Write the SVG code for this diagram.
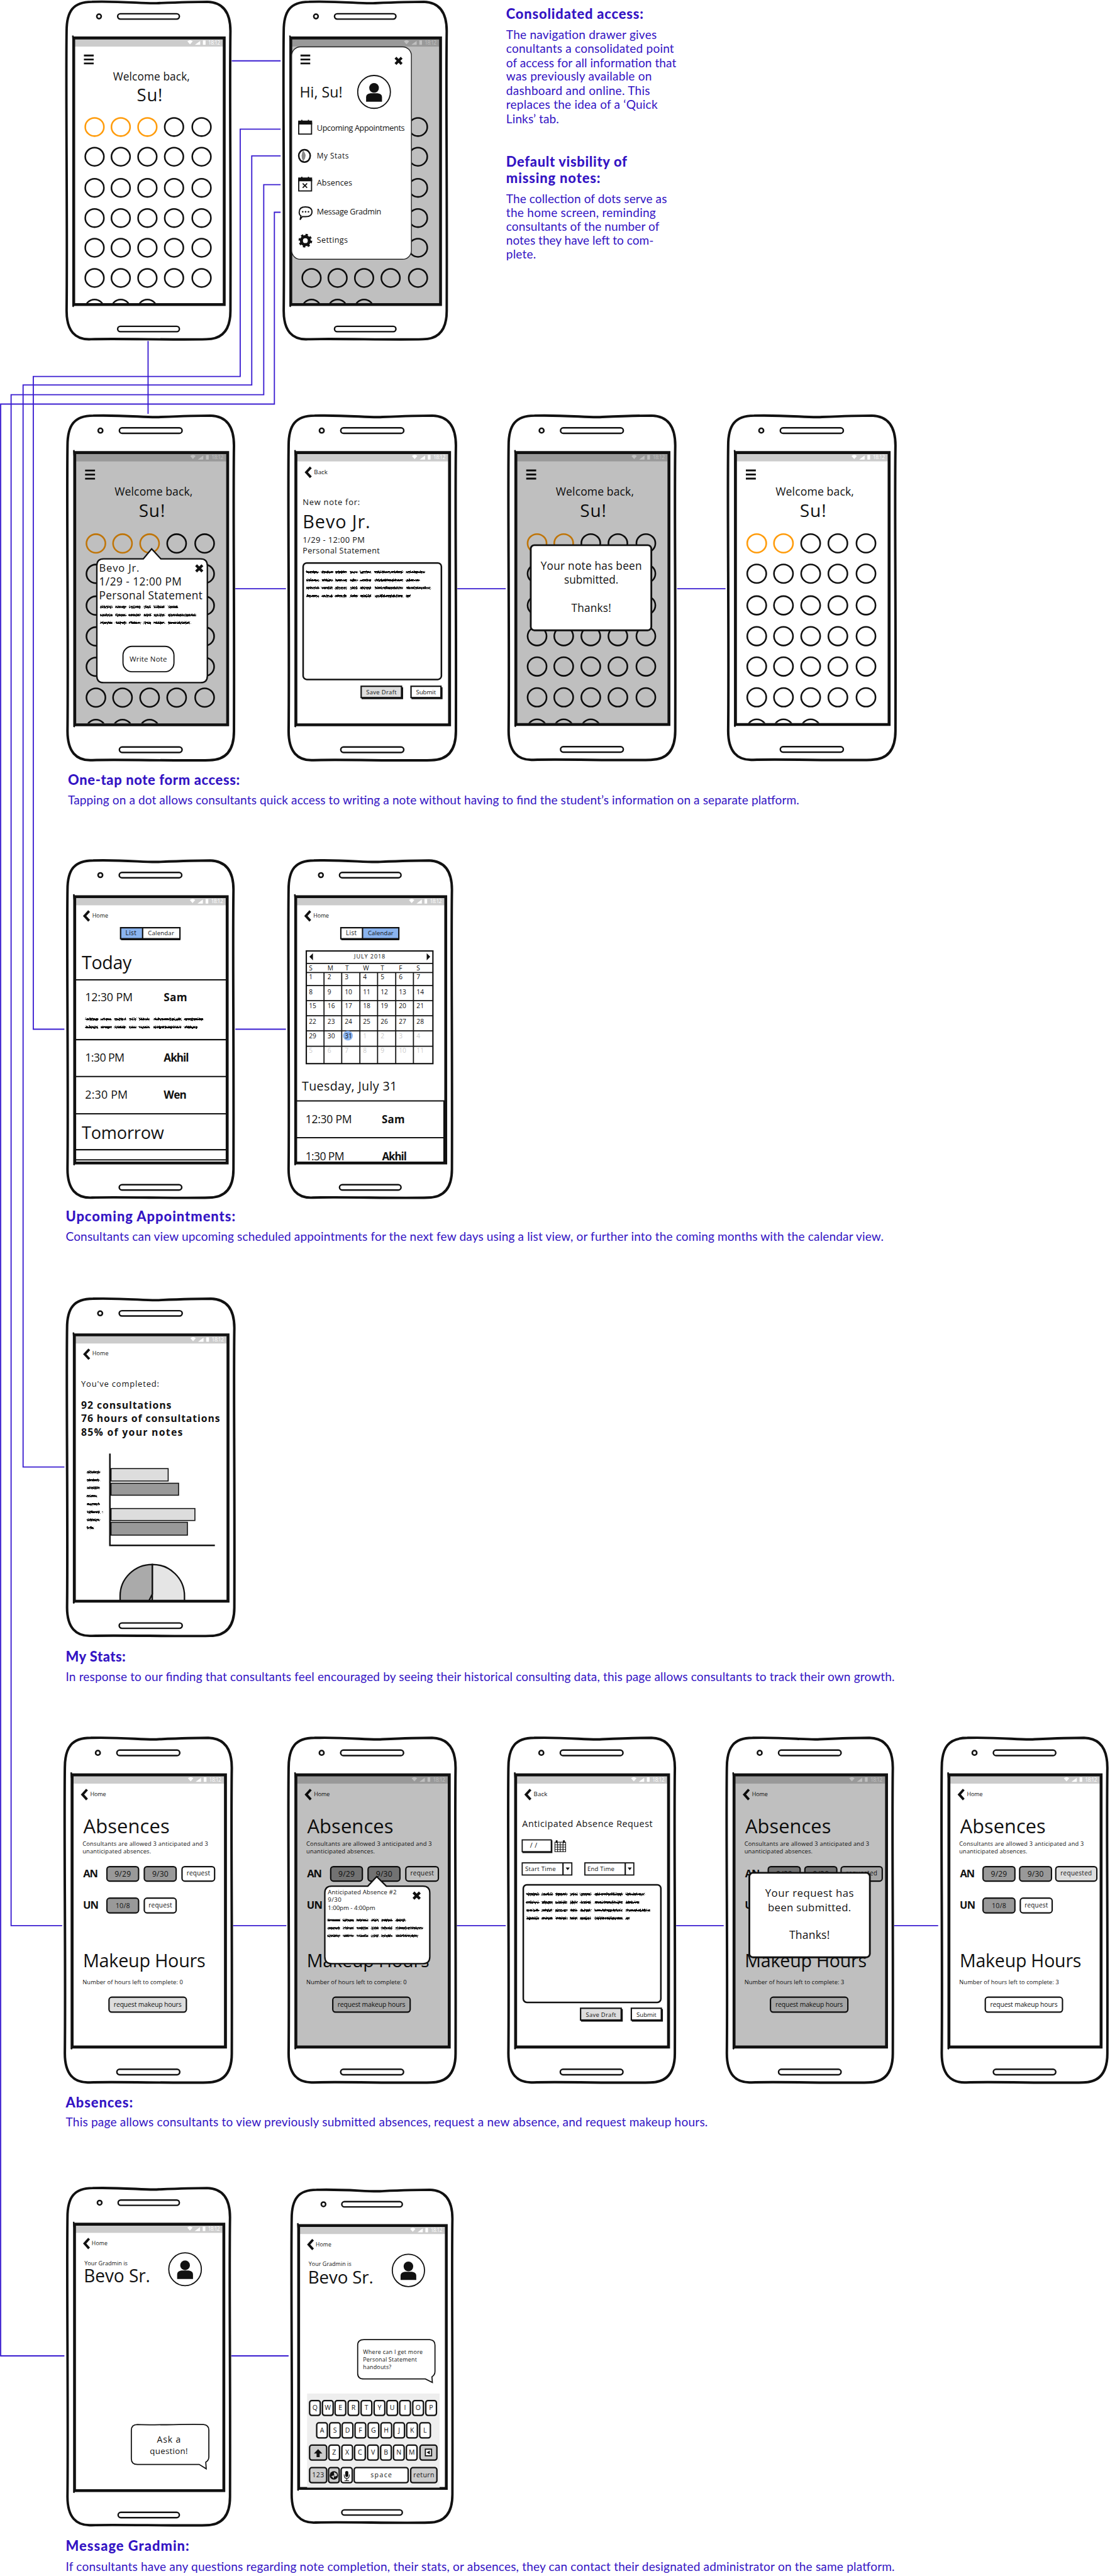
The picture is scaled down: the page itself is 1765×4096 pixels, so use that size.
<svg xmlns="http://www.w3.org/2000/svg" width="1765" height="4096" viewBox="0 0 1765 4096">
<style>
text{font-family:"Open Sans","Lato","Liberation Sans",sans-serif;fill:#111}
.st{fill:#fff;font-size:12px}
.cap{font-family:"Lato","Open Sans",sans-serif;fill:#3414c4;font-size:27px}
.hd{font-family:"Lato","Open Sans",sans-serif;fill:#3414c4;font-size:31px;font-weight:900}
.c{text-anchor:middle}
.b{font-weight:700}
.gr{fill:#ccc}
.conn{fill:none;stroke:#3a1dd0;stroke-width:2.6}
.line{fill:none;stroke:#111;stroke-width:3}
.btn{stroke:#111;stroke-width:3}
.g9{fill:#999}.gd{fill:#ddd}.wh{fill:#fff}.bl{fill:#8ab4f0}.gc{fill:#ccc}
.dot{fill:none;stroke:#111;stroke-width:3.6}
.or{fill:none;stroke:#ff9c0c;stroke-width:3.6}
.sc{fill:none;stroke:#111;stroke-width:4.6;stroke-dasharray:28 6 24 6 26 7 16 6 24 8 62 7 54 6 24 9 14 6 40 6 30 8 48 6 20 6 30 7;filter:url(#rough)}
.pop{fill:#fff;stroke:#111;stroke-width:3.2}
.dim{fill:#000;fill-opacity:.25}
.chev{fill:none;stroke:#111;stroke-width:5.5}
.key{fill:#fff;stroke:#111;stroke-width:3.2}
.keyg{fill:#ccc;stroke:#111;stroke-width:3.2}
</style>
<defs>
<filter id="rough" filterUnits="userSpaceOnUse" x="0" y="0" width="400" height="800"><feTurbulence type="fractalNoise" baseFrequency="0.45" numOctaves="2" seed="4"/><feDisplacementMap in="SourceGraphic" scale="6" xChannelSelector="R" yChannelSelector="G"/></filter>
<clipPath id="scr"><rect x="21" y="89" width="334" height="594"/></clipPath>
<g id="body">
<path d="M3 70C3 25 18 4 60 4C130 2 180 9 210 7C260 5 300 4 320 4C355 5 372 28 372 70C370 200 373 400 372 700C372 745 352 764 318 764C250 766 120 762 58 764C22 766 3 745 3 700C5 500 1 200 3 70Z" fill="#fff" stroke="#111" stroke-width="5.5"/>
<rect x="118" y="31" width="139" height="12" rx="6" fill="#fff" stroke="#111" stroke-width="3.4"/>
<rect x="118" y="735" width="139" height="12" rx="6" fill="#fff" stroke="#111" stroke-width="3.4"/>
<circle cx="76" cy="37" r="5" fill="#fff" stroke="#111" stroke-width="3.6"/>
<rect x="21" y="88" width="334" height="596" fill="#fff"/>
<rect x="21" y="88" width="334" height="17" fill="#ccc"/>
<path d="M275 93Q281 88 287 93L281 100ZM292 101H304V92ZM310 91h6v10h-6Z" fill="#fff"/>
</g>
<g id="frame">
<path d="M19 85.5H358V686H19Z" fill="none" stroke="#111" stroke-width="6.5"/>
<path d="M17 80L18 92M17 691L20 685" fill="none" stroke="#111" stroke-width="3.5"/>
</g>
<rect id="ovl" class="dim" x="21" y="88" width="334" height="596"/>
<path id="burger" d="M42 125H64M42 134H64M42 143H64" fill="none" stroke="#111" stroke-width="4"/>
<path id="chv" class="chev" d="M52 118L42 129L52 140"/>
<g id="dots" class="dot">
<ellipse cx="245" cy="286" rx="21" ry="20.5"/><ellipse cx="307" cy="286" rx="21" ry="20.5"/>
<ellipse cx="66" cy="353" rx="21" ry="20.5"/><ellipse cx="125" cy="353" rx="21" ry="20.5"/><ellipse cx="185" cy="353" rx="21" ry="20.5"/><ellipse cx="245" cy="353" rx="21" ry="20.5"/><ellipse cx="307" cy="353" rx="21" ry="20.5"/>
<ellipse cx="66" cy="423" rx="21" ry="20.5"/><ellipse cx="125" cy="423" rx="21" ry="20.5"/><ellipse cx="185" cy="423" rx="21" ry="20.5"/><ellipse cx="245" cy="423" rx="21" ry="20.5"/><ellipse cx="307" cy="423" rx="21" ry="20.5"/>
<ellipse cx="66" cy="491" rx="21" ry="20.5"/><ellipse cx="125" cy="491" rx="21" ry="20.5"/><ellipse cx="185" cy="491" rx="21" ry="20.5"/><ellipse cx="245" cy="491" rx="21" ry="20.5"/><ellipse cx="307" cy="491" rx="21" ry="20.5"/>
<ellipse cx="66" cy="558" rx="21" ry="20.5"/><ellipse cx="125" cy="558" rx="21" ry="20.5"/><ellipse cx="185" cy="558" rx="21" ry="20.5"/><ellipse cx="245" cy="558" rx="21" ry="20.5"/><ellipse cx="307" cy="558" rx="21" ry="20.5"/>
<ellipse cx="66" cy="626" rx="21" ry="20.5"/><ellipse cx="125" cy="626" rx="21" ry="20.5"/><ellipse cx="185" cy="626" rx="21" ry="20.5"/><ellipse cx="245" cy="626" rx="21" ry="20.5"/><ellipse cx="307" cy="626" rx="21" ry="20.5"/>
<g clip-path="url(#scr)"><ellipse cx="66" cy="695" rx="21" ry="20.5"/><ellipse cx="125" cy="695" rx="21" ry="20.5"/><ellipse cx="185" cy="695" rx="21" ry="20.5"/></g>
</g>
<path id="xx" d="M-7 -7L7 7M7 -7L-7 7" fill="none" stroke="#111" stroke-width="6"/>
<g id="avatar">
<ellipse rx="37" ry="37" fill="#fff" stroke="#111" stroke-width="2.6"/>
<circle cy="-9" r="11" fill="#111"/>
<path d="M-18 22V12Q-18 4 -8 3H8Q18 4 18 12V22Z" fill="#111"/>
</g>
</defs>
<g transform="scale(0.706)">
<g id="connectors">
<path class="conn" d="M522 137H632"/>
<path class="conn" d="M333.500 768V932"/>
<path class="conn" d="M632 291H541V848H75V2318H145"/>
<path class="conn" d="M632 351H567V867H52V3304H145"/>
<path class="conn" d="M632 416H594V889H25V4337H140"/>
<path class="conn" d="M632 478H618V910H1.500V5306H145"/>
<path class="conn" d="M530 1326H644M1030 1326H1139M1525 1326H1634"/>
<path class="conn" d="M530 2318H644"/>
<path class="conn" d="M525 4337H645M1029 4337H1139M1523 4337H1630M2014 4337H2113"/>
<path class="conn" d="M521 5306H650"/>
</g>

<g id="p1-home" transform="translate(147 0)">
<use href="#body"/><text class="st" x="322" y="100" textLength="27">18:12</text>
<use href="#burger"/>
<text class="c" x="194" y="181" font-size="24.500" textLength="173">Welcome back,</text>
<text class="c" x="190" y="228" font-size="39" textLength="58">Su!</text>
<ellipse class="or" cx="66" cy="286" rx="21" ry="20.5"/><ellipse class="or" cx="125" cy="286" rx="21" ry="20.5"/><ellipse class="or" cx="185" cy="286" rx="21" ry="20.5"/>
<use href="#dots"/><use href="#frame"/>
</g>

<g id="p2-drawer" transform="translate(636 0) scale(.995 1)">
<use href="#body"/><text class="st" x="322" y="100" textLength="27">18:12</text>
<use href="#dots"/><use href="#ovl"/><use href="#frame"/>
<rect x="21" y="105.500" width="271" height="478.500" rx="20" fill="#fff" stroke="#222" stroke-width="2"/>
<use href="#burger" x="-1"/>
<use href="#xx" transform="translate(263 137)"/>
<text x="39" y="220" font-size="33" textLength="97">Hi, Su!</text>
<use href="#avatar" transform="translate(207.500 207)"/>
<g fill="#fff" stroke="#111" stroke-width="2.600">
<rect x="37" y="277" width="29" height="25"/><path d="M37 273h29v6h-29Z" fill="#111"/><path d="M44 270v7M59 270v7"/>
<ellipse cx="50" cy="351" rx="13" ry="14" stroke-width="3.500"/><path d="M47 339Q40 351 47 363Q58 351 47 339Z" fill="#888" stroke="none"/>
<rect x="37" y="405" width="29" height="25"/><path d="M37 401h29v6h-29Z" fill="#111"/><path d="M44 398v7M59 398v7M46 413l10 10M56 413l-10 10"/>
<path d="M38 478Q38 466 52 466Q67 466 67 477Q67 488 52 488L45 488L40 495L42 486Q38 484 38 478Z"/>
</g>
<circle cx="46" cy="477" r="1.800" fill="#111"/><circle cx="52.500" cy="477" r="1.800" fill="#111"/><circle cx="59" cy="477" r="1.800" fill="#111"/>
<circle cx="52" cy="542" r="9" fill="none" stroke="#111" stroke-width="7"/><circle cx="52" cy="542" r="13" fill="none" stroke="#111" stroke-width="5" stroke-dasharray="5.200 5"/>
<text x="78" y="295" font-size="18" textLength="199">Upcoming Appointments</text>
<text x="78" y="357" font-size="17" textLength="72">My Stats</text>
<text x="78" y="418" font-size="18" textLength="80">Absences</text>
<text x="78" y="483" font-size="18" textLength="146">Message Gradmin</text>
<text x="78" y="547" font-size="18" textLength="70">Settings</text>
</g>

<g id="caption-consolidated">
<text class="hd" x="1140" y="43" textLength="309">Consolidated access:</text>
<text class="cap" x="1140" y="88" textLength="339">The navigation drawer gives</text>
<text class="cap" x="1140" y="119" textLength="378">conultants a consolidated point</text>
<text class="cap" x="1140" y="151" textLength="383">of access for all information that</text>
<text class="cap" x="1140" y="182" textLength="328">was previously available on</text>
<text class="cap" x="1140" y="213.500" textLength="324">dashboard and online. This</text>
<text class="cap" x="1140" y="245" textLength="341">replaces the idea of a ‘Quick</text>
<text class="cap" x="1140" y="277" textLength="119">Links’ tab.</text>
<text class="hd" x="1140" y="376" textLength="272">Default visbility of</text>
<text class="hd" x="1140" y="412" textLength="212">missing notes:</text>
<text class="cap" x="1140" y="457" textLength="362">The collection of dots serve as</text>
<text class="cap" x="1140" y="488" textLength="337">the home screen, reminding</text>
<text class="cap" x="1140" y="520" textLength="345">consultants of the number of</text>
<text class="cap" x="1140" y="551" textLength="332">notes they have left to com-</text>
<text class="cap" x="1140" y="582" textLength="67">plete.</text>
</g>

<g id="p3-popover" transform="translate(149 932) scale(1.016 1.021)">
<use href="#body"/><text class="st" x="322" y="100" textLength="27">18:12</text>
<use href="#burger"/>
<text class="c" x="194" y="181" font-size="24.500" textLength="173">Welcome back,</text>
<text class="c" x="190" y="228" font-size="39" textLength="58">Su!</text>
<ellipse class="or" cx="66" cy="286" rx="21" ry="20.5"/><ellipse class="or" cx="125" cy="286" rx="21" ry="20.5"/><ellipse class="or" cx="185" cy="286" rx="21" ry="20.5"/>
<use href="#dots"/><use href="#ovl"/><use href="#frame"/>
<path class="pop" d="M83 320H171L189.500 298L210 320H298Q313 320 313 335V578Q313 593 298 593H83Q68 593 68 578V335Q68 320 83 320Z"/>
<text x="73" y="348" font-size="23" textLength="89">Bevo Jr.</text>
<text x="73" y="379" font-size="24" textLength="183">1/29 - 12:00 PM</text>
<text x="73" y="409" font-size="24" textLength="229">Personal Statement</text>
<path class="sc" d="M75 426h172M75 444h216M75 461h200"/>
<use href="#xx" transform="translate(295 341)"/>
<rect x="126" y="513" width="113" height="56" rx="20" fill="#fff" stroke="#111" stroke-width="2.600"/>
<text class="c" x="182" y="546" font-size="16" textLength="83">Write Note</text>
</g>

<g id="p4-note-form" transform="translate(647 932) scale(1.021 1.021)">
<use href="#body"/><text class="st" x="322" y="100" textLength="27">18:12</text>
<use href="#chv"/>
<text x="59" y="133" font-size="13.500" textLength="30">Back</text>
<text x="34" y="201" font-size="18" textLength="126">New note for:</text>
<text x="34" y="253" font-size="40" textLength="149">Bevo Jr.</text>
<text x="34" y="284" font-size="18" textLength="137">1/29 - 12:00 PM</text>
<text x="34" y="308" font-size="17.500" textLength="170">Personal Statement</text>
<rect x="35" y="329" width="305" height="257" rx="8" fill="#fff" stroke="#111" stroke-width="3.500"/>
<path class="sc" d="M42 349h261M42 367h249M42 384h279M42 402h230"/>
<rect class="btn gd" x="163" y="601" width="89" height="25" stroke-width="2.500"/><path class="line" d="M164 628H254V603"/>
<text class="c" x="207.500" y="619" font-size="13" textLength="67">Save Draft</text>
<rect class="btn wh" x="273" y="601" width="66" height="25" stroke-width="2.500"/><path class="line" d="M274 628H341V603"/>
<text class="c" x="306" y="619" font-size="13.500" textLength="44">Submit</text>
<use href="#frame"/>
</g>

<g id="p5-submitted" transform="translate(1142.500 932) scale(1.017 1.02)">
<use href="#body"/><text class="st" x="322" y="100" textLength="27">18:12</text>
<use href="#burger"/>
<text class="c" x="194" y="181" font-size="24.500" textLength="173">Welcome back,</text>
<text class="c" x="190" y="228" font-size="39" textLength="58">Su!</text>
<ellipse class="or" cx="66" cy="286" rx="21" ry="20.5"/><ellipse class="or" cx="125" cy="286" rx="21" ry="20.5"/><ellipse class="dot" cx="185" cy="286" rx="21" ry="20.5"/>
<use href="#dots"/><use href="#ovl"/><use href="#frame"/>
<rect x="52" y="290" width="267" height="188" rx="8" fill="#fff" stroke="#111" stroke-width="4"/>
<text class="c" x="186" y="344" font-size="24" textLength="224">Your note has been</text>
<text class="c" x="186" y="375.500" font-size="24" textLength="120">submitted.</text>
<text class="c" x="186" y="437" font-size="24" textLength="88">Thanks!</text>
</g>

<g id="p6-home-updated" transform="translate(1637 932) scale(1.021 1.02)">
<use href="#body"/><text class="st" x="322" y="100" textLength="27">18:12</text>
<use href="#burger"/>
<text class="c" x="194" y="181" font-size="24.500" textLength="173">Welcome back,</text>
<text class="c" x="190" y="228" font-size="39" textLength="58">Su!</text>
<ellipse class="or" cx="66" cy="286" rx="21" ry="20.5"/><ellipse class="or" cx="125" cy="286" rx="21" ry="20.5"/><ellipse class="dot" cx="185" cy="286" rx="21" ry="20.5"/>
<use href="#dots"/><use href="#frame"/>
</g>

<g id="caption-one-tap">
<text class="hd" x="153" y="1767" textLength="387">One-tap note form access:</text>
<text class="cap" x="153" y="1811" textLength="1647">Tapping on a dot allows consultants quick access to writing a note without having to find the student’s information on a separate platform.</text>
</g>

<g id="p7-list" transform="translate(149 1934) scale(1.013 .999)">
<use href="#body"/><text class="st" x="322" y="100" textLength="27">18:12</text>
<use href="#chv" x="-1"/>
<text x="58" y="133" font-size="12.500" textLength="35.500">Home</text>
<rect class="bl" x="121" y="155.500" width="49" height="25"/><rect class="wh" x="170" y="155.500" width="83" height="25"/>
<path class="line" stroke-width="2.500" d="M121 155.500H253V180.500H121ZM170 155.500V180.500"/><path fill="none" stroke="#111" stroke-width="4.500" d="M122 181.500H254"/>
<text class="c" x="144" y="173" font-size="14" textLength="24">List</text>
<text class="c" x="211" y="173" font-size="13.500" textLength="58">Calendar</text>
<text x="34.700" y="249" font-size="40" textLength="111">Today</text>
<path class="line" d="M20 273H357V408H20ZM20 491H357V575H20ZM20 408V491M357 408V491M20 656H357M20 679H357"/>
<text x="42" y="322" font-size="25" textLength="106">12:30 PM</text>
<text class="b" x="217" y="322" font-size="24" textLength="52">Sam</text>
<path class="sc" d="M43 362h262M43 380h249"/>
<text x="42" y="457" font-size="25" textLength="88">1:30 PM</text>
<text class="b" x="217" y="458" font-size="24" textLength="56">Akhil</text>
<text x="42" y="541" font-size="25" textLength="95">2:30 PM</text>
<text class="b" x="217" y="541" font-size="24" textLength="51">Wen</text>
<text x="34.700" y="632" font-size="38" textLength="183">Tomorrow</text>
<use href="#frame"/>
</g>

<g id="p8-calendar" transform="translate(647 1934) scale(.997 .999)">
<use href="#body"/><text class="st" x="322" y="100" textLength="27">18:12</text>
<use href="#chv"/>
<text x="59" y="133" font-size="12.500" textLength="35">Home</text>
<rect class="wh" x="121" y="155.500" width="49" height="25"/><rect class="bl" x="170" y="155.500" width="82" height="25"/>
<path class="line" stroke-width="2.500" d="M121 155.500H252V180.500H121ZM170 155.500V180.500"/><path fill="none" stroke="#111" stroke-width="4.500" d="M122 181.500H253"/>
<text class="c" x="144.500" y="173" font-size="14" textLength="24">List</text>
<text class="c" x="211" y="173" font-size="13.500" textLength="58">Calendar</text>
<rect x="43" y="208" width="286" height="254" fill="#fff" stroke="#111" stroke-width="3"/>
<path fill="none" stroke="#111" stroke-width="2.500" d="M43 236H329M43 256.500H329M43 286H329M43 320H329M43 354H329M43 388H329M43 423H329M83 256.500V462M123 256.500V462M164 256.500V462M204 256.500V462M245 256.500V462M285 256.500V462"/>
<path d="M50 221L58 213V229ZM323 221L315 213V229Z" fill="#111"/>
<text class="c" x="186" y="225" font-size="13" textLength="70">JULY 2018</text>
<circle cx="137" cy="399" r="11" fill="#8ab4f0"/>
<g font-size="14.500">
<text x="49" y="252">S</text><text x="91" y="252">M</text><text x="131" y="252">T</text><text x="171" y="252">W</text><text x="211" y="252">T</text><text x="252" y="252">F</text><text x="292" y="252">S</text>
<text x="49" y="272">1</text><text x="91" y="272">2</text><text x="130" y="272">3</text><text x="171" y="272">4</text><text x="211" y="272">5</text><text x="252" y="272">6</text><text x="292" y="272">7</text>
<text x="49" y="305">8</text><text x="91" y="305">9</text><text x="130" y="305">10</text><text x="171" y="305">11</text><text x="211" y="305">12</text><text x="252" y="305">13</text><text x="292" y="305">14</text>
<text x="49" y="337">15</text><text x="91" y="337">16</text><text x="130" y="337">17</text><text x="171" y="337">18</text><text x="211" y="337">19</text><text x="252" y="337">20</text><text x="292" y="337">21</text>
<text x="49" y="372">22</text><text x="91" y="372">23</text><text x="130" y="372">24</text><text x="171" y="372">25</text><text x="211" y="372">26</text><text x="252" y="372">27</text><text x="292" y="372">28</text>
<text x="49" y="405">29</text><text x="91" y="405">30</text><text x="130" y="405">31</text><text class="gr" x="171" y="405">1</text><text class="gr" x="211" y="405">2</text><text class="gr" x="252" y="405">3</text><text class="gr" x="292" y="405">4</text>
<text class="gr" x="49" y="438">5</text><text class="gr" x="91" y="438">6</text><text class="gr" x="130" y="438">7</text><text class="gr" x="171" y="438">8</text><text class="gr" x="211" y="438">9</text><text class="gr" x="252" y="438">10</text><text class="gr" x="292" y="438">11</text>
</g>
<text x="33" y="523" font-size="28" textLength="215">Tuesday, July 31</text>
<path class="line" d="M19 546H354V686M19 546V686M19 629H354"/>
<text x="41" y="596" font-size="25" textLength="105">12:30 PM</text>
<text class="b" x="213.500" y="596" font-size="24" textLength="52">Sam</text>
<text x="41" y="680" font-size="25" textLength="88">1:30 PM</text>
<text class="b" x="214" y="680" font-size="24" textLength="56">Akhil</text>
<use href="#frame"/>
</g>

<g id="caption-upcoming">
<text class="hd" x="148" y="2751" textLength="382">Upcoming Appointments:</text>
<text class="cap" x="148" y="2794" textLength="1842">Consultants can view upcoming scheduled appointments for the next few days using a list view, or further into the coming months with the calendar view.</text>
</g>

<g id="p9-stats" transform="translate(148 2921) scale(1.021 .999)">
<use href="#body"/><text class="st" x="322" y="100" textLength="27">18:12</text>
<use href="#chv"/>
<text x="58.800" y="132" font-size="12.500" textLength="35.600">Home</text>
<text x="34" y="202" font-size="18" textLength="172">You've completed:</text>
<text class="b" x="34" y="252" font-size="22" textLength="199">92 consultations</text>
<text class="b" x="34" y="282" font-size="22" textLength="306">76 hours of consultations</text>
<text class="b" x="34" y="313" font-size="22" textLength="224">85% of your notes</text>
<path fill="none" stroke="#111" stroke-width="3.500" d="M97.500 353V560H329"/>
<g stroke="#111" stroke-width="2.200">
<rect x="100" y="387" width="126" height="28" fill="#ddd"/><rect x="100" y="420" width="149" height="27" fill="#999"/>
<rect x="100" y="477" width="185" height="27" fill="#ddd"/><rect x="100" y="508" width="168.500" height="29" fill="#999"/>
</g>
<path class="sc" d="M47 395h33M47 413h33M47 430.500h33M47 449h22M47 467h30M47 485h35M47 503h33M47 521h15"/>
<g clip-path="url(#scr)" stroke="#111" stroke-width="3.200">
<path d="M191 603A71 71 0 0 0 120 674V690H191Z" fill="#aaa"/><path d="M191 603A71 71 0 0 1 262 674V690H191Z" fill="#e5e5e5"/>
<path d="M191 603V670L184 684" fill="none"/>
</g>
<use href="#frame"/>
</g>

<g id="caption-stats">
<text class="hd" x="148" y="3742" textLength="135">My Stats:</text>
<text class="cap" x="148" y="3786" textLength="1867">In response to our finding that consultants feel encouraged by seeing their historical consulting data, this page allows consultants to track their own growth.</text>
</g>

<g id="p10-absences" transform="translate(143 3910) scale(1.019 1.021)">
<use href="#body"/><text class="st" x="322" y="100" textLength="27">18:12</text>
<use href="#chv"/>
<text x="59" y="132" font-size="12.500" textLength="35">Home</text>
<text x="44" y="214" font-size="43" textLength="190.500">Absences</text>
<text x="42" y="242" font-size="13" textLength="277.500">Consultants are allowed 3 anticipated and 3</text>
<text x="42" y="259" font-size="13" textLength="151.500">unanticipated absences.</text>
<text class="b" x="43.600" y="311" font-size="23" textLength="33">AN</text>
<rect class="btn g9" x="96" y="288" width="70" height="32" rx="6"/><rect class="btn g9" x="178.600" y="288" width="70.400" height="32" rx="6"/><rect class="btn wh" x="262" y="288" width="72" height="32" rx="6"/>
<text class="c" x="131" y="310" font-size="17" textLength="36">9/29</text><text class="c" x="214" y="310" font-size="17" textLength="36">9/30</text><text class="c" x="298" y="308" font-size="14" textLength="52">request</text>
<text class="b" x="43" y="381" font-size="23" textLength="35">UN</text>
<rect class="btn g9" x="96" y="357.500" width="70" height="32.500" rx="6"/><rect class="btn wh" x="178.600" y="357.500" width="70.400" height="32.500" rx="6"/>
<text class="c" x="131" y="380" font-size="15" textLength="32">10/8</text><text class="c" x="214" y="378" font-size="14" textLength="52">request</text>
<text x="43" y="510" font-size="40" textLength="271">Makeup Hours</text>
<text x="42" y="547" font-size="13" textLength="222">Number of hours left to complete: 0</text>
<rect class="btn gd" x="100.600" y="576" width="171" height="33" rx="6"/>
<text class="c" x="186" y="597" font-size="14.500" textLength="150">request makeup hours</text>
<use href="#frame"/>
</g>

<g id="p11-absence-detail" transform="translate(647 3910) scale(1.019 1.021)">
<use href="#body"/><text class="st" x="322" y="100" textLength="27">18:12</text>
<use href="#chv"/>
<text x="59" y="132" font-size="12.500" textLength="35">Home</text>
<text x="44" y="214" font-size="43" textLength="190.500">Absences</text>
<text x="42" y="242" font-size="13" textLength="277.500">Consultants are allowed 3 anticipated and 3</text>
<text x="42" y="259" font-size="13" textLength="151.500">unanticipated absences.</text>
<text class="b" x="43.600" y="311" font-size="23" textLength="33">AN</text>
<rect class="btn g9" x="96" y="288" width="70" height="32" rx="6"/><rect class="btn g9" x="178.600" y="288" width="70.400" height="32" rx="6"/><rect class="btn wh" x="262" y="288" width="72" height="32" rx="6"/>
<text class="c" x="131" y="310" font-size="17" textLength="36">9/29</text><text class="c" x="214" y="310" font-size="17" textLength="36">9/30</text><text class="c" x="298" y="308" font-size="14" textLength="52">request</text>
<text class="b" x="43" y="381" font-size="23" textLength="35">UN</text>
<text x="43" y="510" font-size="40" textLength="271">Makeup Hours</text>
<text x="42" y="547" font-size="13" textLength="222">Number of hours left to complete: 0</text>
<rect class="btn gd" x="100.600" y="576" width="171" height="33" rx="6"/>
<text class="c" x="186" y="597" font-size="14.500" textLength="150">request makeup hours</text>
<use href="#ovl"/><use href="#frame"/>
<path class="pop" d="M98 331H178L197.600 310L219 331H300Q315 331 315 346V487Q315 502 300 502H98Q83 502 83 487V346Q83 331 98 331Z"/>
<text x="89.500" y="349" font-size="13.500" textLength="152">Anticipated Absence #2</text>
<text x="89.500" y="366" font-size="13.500" textLength="30">9/30</text>
<text x="89.500" y="383" font-size="13.500" textLength="105">1:00pm - 4:00pm</text>
<path class="sc" d="M89 406.400h172M89 423.600h211M89 440.800h200"/>
<use href="#xx" transform="translate(286 352)"/>
</g>

<g id="p12-absence-request" transform="translate(1142 3910) scale(1.016 1.021)">
<use href="#body"/><text class="st" x="322" y="100" textLength="27">18:12</text>
<use href="#chv"/>
<text x="59" y="132" font-size="13.500" textLength="30.500">Back</text>
<text x="33.600" y="201" font-size="20" textLength="289">Anticipated Absence Request</text>
<rect x="33.600" y="229" width="64.400" height="26" fill="#fff" stroke="#111" stroke-width="2.500"/><path class="line" d="M34 256.500H99V230"/>
<text x="51" y="246" font-size="15" textLength="16">/ /</text>
<g fill="#fff" stroke="#111" stroke-width="1.500"><rect x="106" y="234" width="24" height="21"/><path d="M106 240H130M106 245H130M106 250H130M112 234V255M118 234V255M124 234V255"/></g>
<path d="M108 230h4v6h-4ZM124 230h4v6h-4Z" fill="#111"/>
<rect x="33.600" y="279.700" width="110" height="26.800" fill="#fff" stroke="#111" stroke-width="2.500"/><path class="line" stroke-width="2" d="M124 279.700V306.500"/><path d="M130 290h9l-4.500 6Z" fill="#111"/>
<rect x="172.500" y="279.700" width="108.500" height="26.800" fill="#fff" stroke="#111" stroke-width="2.500"/><path class="line" stroke-width="2" d="M262 279.700V306.500"/><path d="M267.500 290h9l-4.500 6Z" fill="#111"/>
<text x="40" y="298" font-size="13.500" textLength="68">Start Time</text>
<text x="178" y="298" font-size="13.500" textLength="60">End Time</text>
<rect x="36" y="328" width="305" height="259.500" rx="8" fill="#fff" stroke="#111" stroke-width="3.500"/>
<path class="sc" d="M43 349h261M43 367h250M43 384.500h279M43 402h228.500"/>
<rect class="btn gd" x="163" y="600.400" width="90" height="26" stroke-width="2.500"/><path class="line" d="M164 628.500H255V602"/>
<text class="c" x="208" y="619" font-size="13" textLength="67">Save Draft</text>
<rect class="btn wh" x="275.500" y="600.400" width="66.500" height="26" stroke-width="2.500"/><path class="line" d="M276.500 628.500H344V602"/>
<text class="c" x="309" y="619" font-size="13.500" textLength="44">Submit</text>
<use href="#frame"/>
</g>

<g id="p13-request-submitted" transform="translate(1634 3910) scale(1.013 1.021)">
<use href="#body"/><text class="st" x="322" y="100" textLength="27">18:12</text>
<use href="#chv"/>
<text x="59" y="132" font-size="12.500" textLength="35">Home</text>
<text x="44" y="214" font-size="43" textLength="190.500">Absences</text>
<text x="42" y="242" font-size="13" textLength="277.500">Consultants are allowed 3 anticipated and 3</text>
<text x="42" y="259" font-size="13" textLength="151.500">unanticipated absences.</text>
<text class="b" x="43.600" y="311" font-size="23" textLength="33">AN</text>
<rect class="btn g9" x="95" y="288" width="71" height="32" rx="6"/><rect class="btn g9" x="176.500" y="288" width="71" height="32" rx="6"/><rect class="btn gd" x="257" y="288" width="91.500" height="32" rx="6"/>
<text class="c" x="130.500" y="310" font-size="17" textLength="36">9/29</text><text class="c" x="212" y="310" font-size="17" textLength="36">9/30</text><text class="c" x="302.500" y="308" font-size="14" textLength="70">requested</text>
<text class="b" x="43" y="381" font-size="23" textLength="35">UN</text>
<text x="43" y="510" font-size="40" textLength="271">Makeup Hours</text>
<text x="42" y="547" font-size="13" textLength="222">Number of hours left to complete: 3</text>
<rect class="btn gd" x="100" y="576" width="172" height="33" rx="6"/>
<text class="c" x="186" y="597" font-size="14.500" textLength="150">request makeup hours</text>
<use href="#ovl"/><use href="#frame"/>
<rect x="53" y="301.700" width="268" height="186.300" rx="8" fill="#fff" stroke="#111" stroke-width="4"/>
<text class="c" x="186.700" y="355" font-size="23.500" textLength="197">Your request has</text>
<text class="c" x="186.700" y="386" font-size="23.500" textLength="185">been submitted.</text>
<text class="c" x="186.700" y="448" font-size="24.500" textLength="90">Thanks!</text>
</g>

<g id="p14-absences-updated" transform="translate(2118 3910) scale(1.011 1.021)">
<use href="#body"/><text class="st" x="322" y="100" textLength="27">18:12</text>
<use href="#chv"/>
<text x="59" y="132" font-size="12.500" textLength="35">Home</text>
<text x="44" y="214" font-size="43" textLength="190.500">Absences</text>
<text x="42" y="242" font-size="13" textLength="277.500">Consultants are allowed 3 anticipated and 3</text>
<text x="42" y="259" font-size="13" textLength="151.500">unanticipated absences.</text>
<text class="b" x="43.600" y="311" font-size="23" textLength="33">AN</text>
<rect class="btn g9" x="95" y="288" width="71" height="32" rx="6"/><rect class="btn g9" x="176.500" y="288" width="71" height="32" rx="6"/><rect class="btn gd" x="257" y="288" width="91.500" height="32" rx="6"/>
<text class="c" x="130.500" y="310" font-size="17" textLength="36">9/29</text><text class="c" x="212" y="310" font-size="17" textLength="36">9/30</text><text class="c" x="302.500" y="308" font-size="14" textLength="70">requested</text>
<text class="b" x="43" y="381" font-size="23" textLength="35">UN</text>
<rect class="btn g9" x="95" y="357.500" width="71" height="32.500" rx="6"/><rect class="btn wh" x="178" y="357.500" width="71" height="32.500" rx="6"/>
<text class="c" x="130.500" y="380" font-size="15" textLength="32">10/8</text><text class="c" x="213.500" y="378" font-size="14" textLength="52">request</text>
<text x="43" y="510" font-size="40" textLength="271">Makeup Hours</text>
<text x="42" y="547" font-size="13" textLength="222">Number of hours left to complete: 3</text>
<rect class="btn wh" x="100" y="576" width="172" height="33" rx="6"/>
<text class="c" x="186" y="597" font-size="14.500" textLength="150">request makeup hours</text>
<use href="#frame"/>
</g>

<g id="caption-absences">
<text class="hd" x="148" y="4746" textLength="151">Absences:</text>
<text class="cap" x="148" y="4789" textLength="1446">This page allows consultants to view previously submitted absences, request a new absence, and request makeup hours.</text>
</g>

<g id="p15-gradmin" transform="translate(149 4924) scale(.992 .999)">
<use href="#body"/><text class="st" x="322" y="100" textLength="27">18:12</text>
<use href="#chv"/>
<text x="58" y="133" font-size="12.500" textLength="36">Home</text>
<text x="41.500" y="177.500" font-size="13" textLength="98">Your Gradmin is</text>
<text x="40" y="217" font-size="40" textLength="151">Bevo Sr.</text>
<use href="#avatar" transform="translate(270 187)"/>
<path fill="#fff" stroke="#111" stroke-width="2.500" d="M162 537C210 539 260 536 312 537Q324 538 324 550V610Q324 618 317 622L318 637L302 627H162Q148 627 148 614V550Q148 537 162 537Z"/>
<text class="c" x="233" y="577.500" font-size="20" textLength="54">Ask a</text>
<text class="c" x="233" y="603" font-size="19" textLength="86">question!</text>
<use href="#frame"/>
</g>

<g id="p16-gradmin-question">
<g transform="translate(654 4928) scale(.981 .986)">
<use href="#body"/><text class="st" x="322" y="100" textLength="27">18:12</text>
<use href="#chv"/>
<text x="58" y="133" font-size="12.500" textLength="36">Home</text>
<text x="42" y="178" font-size="13" textLength="98">Your Gradmin is</text>
<text x="40.600" y="218" font-size="40" textLength="150">Bevo Sr.</text>
<use href="#avatar" transform="translate(271 188)"/>
<path fill="#fff" stroke="#111" stroke-width="2.500" d="M169 346H320Q332 347 332 359V419Q332 427 325 431L326 444L310 436H169Q154.500 436 154.500 423V359Q154.500 346 169 346Z"/>
<text x="166.800" y="379" font-size="13" textLength="137">Where can I get more</text>
<text x="166.800" y="396" font-size="13" textLength="123.600">Personal Statement</text>
<text x="166.800" y="413" font-size="13" textLength="65">handouts?</text>
<use href="#frame"/>
</g>
<g id="keyboard" font-size="15">
<rect x="691.700" y="5390.700" width="298.300" height="212" fill="#eee"/>
<rect class="key" x="697.300" y="5406.700" width="24" height="33.300" rx="5"/><rect class="key" x="726.300" y="5406.700" width="24" height="33.300" rx="5"/><rect class="key" x="754.700" y="5406.700" width="24" height="33.300" rx="5"/><rect class="key" x="784" y="5406.700" width="24" height="33.300" rx="5"/><rect class="key" x="813.300" y="5406.700" width="24" height="33.300" rx="5"/><rect class="key" x="842.700" y="5406.700" width="24" height="33.300" rx="5"/><rect class="key" x="871.300" y="5406.700" width="24" height="33.300" rx="5"/><rect class="key" x="900.300" y="5406.700" width="24" height="33.300" rx="5"/><rect class="key" x="929.700" y="5406.700" width="24" height="33.300" rx="5"/><rect class="key" x="959" y="5406.700" width="24" height="33.300" rx="5"/>
<text class="c" x="709.300" y="5428">Q</text><text class="c" x="738.300" y="5428">W</text><text class="c" x="766.700" y="5428">E</text><text class="c" x="796" y="5428">R</text><text class="c" x="825.300" y="5428">T</text><text class="c" x="854.700" y="5428">Y</text><text class="c" x="883.300" y="5428">U</text><text class="c" x="912.300" y="5428">I</text><text class="c" x="941.700" y="5428">O</text><text class="c" x="971" y="5428">P</text>
<rect class="key" x="713.300" y="5456.700" width="24" height="34" rx="5"/><rect class="key" x="742.300" y="5456.700" width="24" height="34" rx="5"/><rect class="key" x="770.700" y="5456.700" width="24" height="34" rx="5"/><rect class="key" x="799.700" y="5456.700" width="24" height="34" rx="5"/><rect class="key" x="829" y="5456.700" width="24" height="34" rx="5"/><rect class="key" x="858" y="5456.700" width="24" height="34" rx="5"/><rect class="key" x="887" y="5456.700" width="24" height="34" rx="5"/><rect class="key" x="916" y="5456.700" width="24" height="34" rx="5"/><rect class="key" x="945.300" y="5456.700" width="24" height="34" rx="5"/>
<text class="c" x="725.300" y="5479">A</text><text class="c" x="754.300" y="5479">S</text><text class="c" x="782.700" y="5479">D</text><text class="c" x="811.700" y="5479">F</text><text class="c" x="841" y="5479">G</text><text class="c" x="870" y="5479">H</text><text class="c" x="899" y="5479">J</text><text class="c" x="928" y="5479">K</text><text class="c" x="957.300" y="5479">L</text>
<rect class="keyg" x="697.300" y="5507" width="38.400" height="33.700" rx="5"/><rect class="key" x="740.700" y="5507" width="24" height="33.700" rx="5"/><rect class="key" x="770" y="5507" width="24" height="33.700" rx="5"/><rect class="key" x="798.700" y="5507" width="24" height="33.700" rx="5"/><rect class="key" x="828" y="5507" width="24" height="33.700" rx="5"/><rect class="key" x="857.300" y="5507" width="24" height="33.700" rx="5"/><rect class="key" x="886.300" y="5507" width="24" height="33.700" rx="5"/><rect class="key" x="915.300" y="5507" width="24" height="33.700" rx="5"/><rect class="keyg" x="946" y="5507" width="38" height="33.700" rx="5"/>
<path d="M716.500 5516L726 5526H720V5534H713V5526H707Z" fill="#111"/>
<rect x="958" y="5516" width="14" height="15" fill="#fff" stroke="#111" stroke-width="2.500"/><path d="M961 5523.500L968 5519V5528Z" fill="#111"/>
<text class="c" x="752.700" y="5529">Z</text><text class="c" x="782" y="5529">X</text><text class="c" x="810.700" y="5529">C</text><text class="c" x="840" y="5529">V</text><text class="c" x="869.300" y="5529">B</text><text class="c" x="898.300" y="5529">N</text><text class="c" x="927.300" y="5529">M</text>
<rect class="keyg" x="697.300" y="5557.700" width="38.400" height="34" rx="5"/><rect class="keyg" x="740" y="5557.700" width="24" height="34" rx="5"/><rect class="key" x="768.300" y="5557.700" width="25" height="34" rx="5"/><rect class="key" x="797.700" y="5557.700" width="121.600" height="34" rx="5"/><rect class="keyg" x="925" y="5557.700" width="59" height="34" rx="5"/>
<circle cx="752" cy="5575" r="9.500" fill="#111"/><path d="M752 5568Q760 5570 759 5576L753 5578Z" fill="#ccc"/><path d="M746 5577L752 5582V5575Z" fill="#ccc"/>
<rect x="777.500" y="5565" width="7" height="14" rx="3.500" fill="#111"/><path d="M775 5573Q775 5582 781 5582Q787 5582 787 5573M781 5582V5587M776 5587H786" fill="none" stroke="#111" stroke-width="1.500"/>
<text class="c" x="716.500" y="5579" textLength="27">123</text>
<text class="c" x="858.500" y="5579" textLength="48">space</text>
<text class="c" x="954.500" y="5579" textLength="47">return</text>
</g>
</g>

<g id="caption-gradmin">
<text class="hd" x="148" y="5745" textLength="278">Message Gradmin:</text>
<text class="cap" x="148" y="5790" textLength="1867">If consultants have any questions regarding note completion, their stats, or absences, they can contact their designated administrator on the same platform.</text>
</g>
</g>
</svg>
